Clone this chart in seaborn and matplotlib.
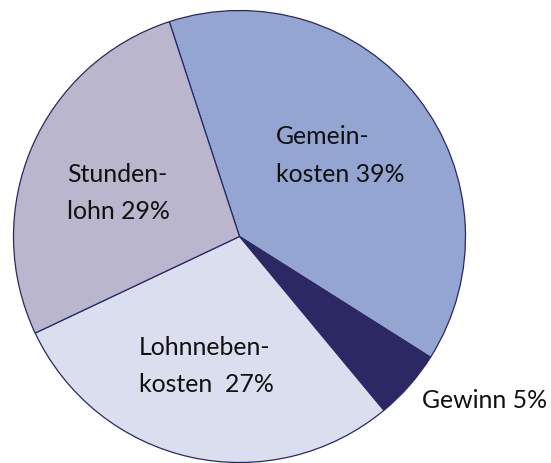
import matplotlib
matplotlib.use("Agg")
import matplotlib.pyplot as plt
import seaborn as sns

# Data (slice shares as drawn, clockwise from top-left boundary)
categories = ["Gemeinkosten", "Gewinn", "Lohnnebenkosten", "Stundenlohn"]
shares = [39, 5, 29, 27]
label_lines = [["Gemein-", "kosten 39%"], ["Gewinn 5%"], ["Lohnneben-", "kosten  27%"], ["Stunden-", "lohn 29%"]]
colors = ["#93a5d0", "#2b2864", "#dadeef", "#b9b6ce"]

sns.set_theme(style="white")
plt.rcParams["font.family"] = ["Lato", "DejaVu Sans"]

W, H = 551, 464
fig = plt.figure(figsize=(W / 100, H / 100), dpi=100)
cx, cy, R = 239.5, 237.5, 226.0
ax = fig.add_axes([(cx - R) / W, (H - cy - R) / H, 2 * R / W, 2 * R / H])
ax.set_xlim(-1, 1)
ax.set_ylim(-1, 1)
ax.axis("off")

ax.pie(shares, colors=colors, startangle=108.1, counterclock=False, radius=1,
       wedgeprops=dict(edgecolor="#2b2864", linewidth=0.9))
ax.set_xlim(-1, 1)
ax.set_ylim(-1, 1)

# label anchor positions (pixel: left x, first-baseline y)
anchors = [(276, 144), (422, 408), (139, 355), (67, 182)]
line_gap = 37.5
fs = 17.9
for lines, (px, py) in zip(label_lines, anchors):
    for i, ln in enumerate(lines):
        x = (px - cx) / R
        y = (cy - (py + i * line_gap)) / R
        ax.text(x, y, ln, ha="left", va="baseline", fontsize=fs, color="#111111",
                clip_on=False)

fig.savefig("out.png", dpi=100)
